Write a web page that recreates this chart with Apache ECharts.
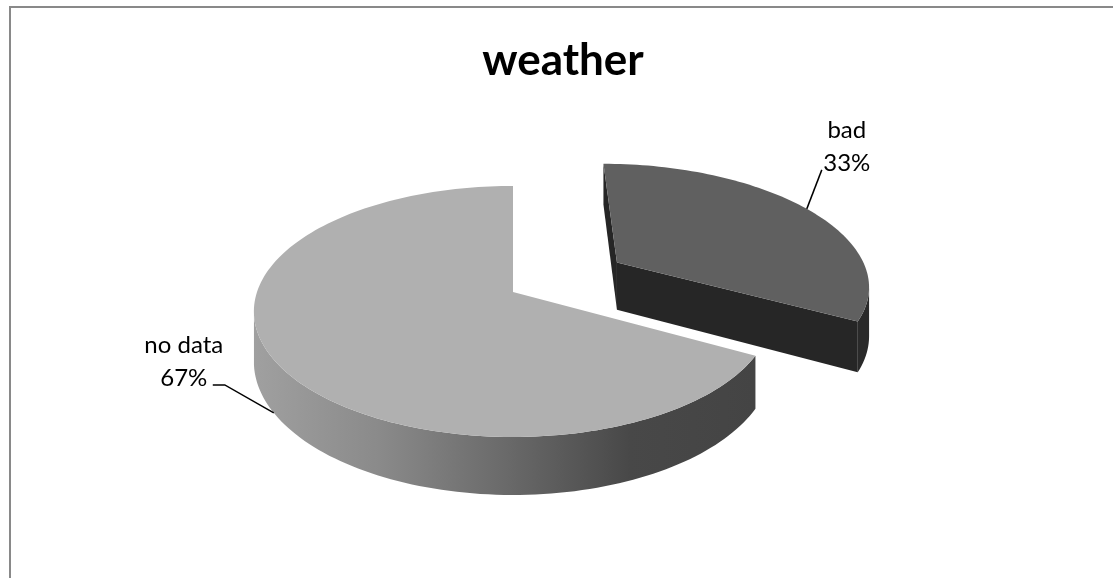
<!DOCTYPE html>
<html>
<head>
<meta charset="utf-8">
<script src="https://cdn.jsdelivr.net/npm/echarts@6/dist/echarts.min.js"></script>
<style>
  html, body { margin: 0; padding: 0; background: #fff; }
  #chart { position: absolute; left: 0; top: 0; width: 1113px; height: 578px; }
  #frame { position: absolute; left: 9px; top: 6px; width: 1200px; height: 700px;
           border: 2px solid #898989; box-sizing: border-box; pointer-events: none; }
</style>
</head>
<body>
<div id="chart"></div>
<div id="frame"></div>
<script>
// ---- data ----
const chartTitle = 'weather';
const categories = ['bad', 'no data'];
const values = [33, 67];

// ---- tilted-disc projection (screen centre, radii, thickness, perspective) ----
const view = { cx: 513, cy: 292, rx: 256, ry: 122.5, depth: 49, persp: 0.155 };

// ---- per-slice appearance ----
const sliceStyle = {
  'bad': {
    top: '#606060', wall: '#262626', side: '#2a2a2a', explode: 0.49,
    label: { anchorH: 0, elbow: null, end: [15, -39], text: [40, -62.5] }
  },
  'no data': {
    top: '#b0b0b0', wall: '#8c8c8c',
    side: [[0, '#a0a0a0'], [0.25, '#8a8a8a'], [0.5, '#6a6a6a'], [0.75, '#484848'], [1, '#444444']],
    explode: 0,
    label: { anchorH: 1, elbow: [-49, -28], end: [-61, -28], text: [-90, -51] }
  }
};

const TAU = Math.PI * 2;
const total = values.reduce((a, b) => a + b, 0);
const starts = [];
let acc = 0;
values.forEach(v => { starts.push(acc / total * TAU); acc += v; });

// unit-disc point (u right, v toward viewer) at height h (0 top, 1 bottom) -> screen
function proj(u, v, h) {
  const s = 1 / (1 - view.persp * v);
  return [view.cx + view.rx * u * s, view.cy + (view.ry * v + view.depth * h) * s];
}
// clockwise from 12 o'clock
function rim(t) { return [Math.sin(t), -Math.cos(t)]; }

function sideFill(st) {
  if (typeof st.side === 'string') return st.side;
  return new echarts.graphic.LinearGradient(0, 0, 1, 0,
    st.side.map(([offset, color]) => ({ offset, color })));
}

function renderSlice(params, api) {
  const i = params.dataIndex;
  const name = categories[i];
  const value = api.value(1);
  const st = sliceStyle[name];
  const a0 = starts[i];
  const a1 = a0 + value / total * TAU;
  const am = (a0 + a1) / 2;
  const dir = rim(am);
  const ou = dir[0] * st.explode, ov = dir[1] * st.explode;
  const camV = 1 / view.persp;

  const pt = (t, h) => { const r = rim(t); return proj(ou + r[0], ov + r[1], h); };
  const apex = h => proj(ou, ov, h);

  const steps = Math.max(8, Math.ceil((a1 - a0) / TAU * 240));
  const ts = [];
  for (let k = 0; k <= steps; k++) ts.push(a0 + (a1 - a0) * k / steps);

  const base = Math.round((ov + dir[1] + 3) * 100);
  const children = [];

  // radial cut faces
  [[a0, -1], [a1, 1]].forEach(([t, sgn]) => {
    const nu = sgn * Math.cos(t), nv = sgn * Math.sin(t);
    if (nu * (0 - ou) + nv * (camV - ov) <= 0.01) return;
    children.push({
      type: 'polygon', z2: base + 1,
      shape: { points: [apex(0), pt(t, 0), pt(t, 1), apex(1)] },
      style: { fill: st.wall }
    });
  });

  // outer curved face, only the part turned toward the viewer
  const visible = t => {
    const r = rim(t);
    return r[0] * (0 - ou - r[0]) + r[1] * (camV - ov - r[1]) > 0;
  };
  let run = [];
  const flush = () => {
    if (run.length > 1) {
      const pts = run.map(t => pt(t, 0)).concat(run.slice().reverse().map(t => pt(t, 1)));
      children.push({ type: 'polygon', z2: base + 2, shape: { points: pts }, style: { fill: sideFill(st) } });
    }
    run = [];
  };
  ts.forEach(t => { if (visible(t)) run.push(t); else flush(); });
  flush();

  // top face
  children.push({
    type: 'polygon', z2: base + 3,
    shape: { points: [apex(0)].concat(ts.map(t => pt(t, 0))) },
    style: { fill: st.top }
  });

  // data label with leader line
  const lab = st.label;
  const anc = pt(am, lab.anchorH);
  const linePts = [anc];
  if (lab.elbow) linePts.push([anc[0] + lab.elbow[0], anc[1] + lab.elbow[1]]);
  linePts.push([anc[0] + lab.end[0], anc[1] + lab.end[1]]);
  children.push({
    type: 'polyline', z2: 2000,
    shape: { points: linePts },
    style: { stroke: '#000', lineWidth: 1.5, fill: null }
  });
  const pct = Math.round(value / total * 100);
  children.push({
    type: 'text', z2: 2001,
    style: {
      text: name + '\n' + pct + '%',
      x: anc[0] + lab.text[0], y: anc[1] + lab.text[1],
      align: 'center', verticalAlign: 'middle',
      fontFamily: 'Lato', fontSize: 24, lineHeight: 33, fill: '#000'
    }
  });

  return { type: 'group', children };
}

const chart = echarts.init(document.getElementById('chart'), null, { renderer: 'canvas' });
chart.setOption({
  animation: false,
  backgroundColor: '#fff',
  title: {
    text: chartTitle,
    left: 558, top: 34,
    textAlign: 'center', textVerticalAlign: 'top',
    textStyle: { fontFamily: 'Lato', fontWeight: 'bold', fontSize: 44, color: '#000' }
  },
  series: [{
    type: 'custom',
    coordinateSystem: 'none',
    silent: true,
    data: values.map((v, i) => [i, v]),
    renderItem: renderSlice
  }]
});
</script>
</body>
</html>
